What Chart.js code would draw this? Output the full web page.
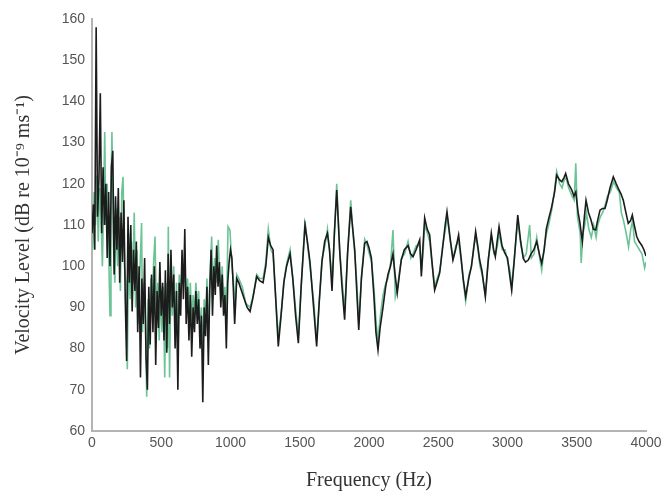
<!DOCTYPE html>
<html>
<head>
<meta charset="utf-8">
<script src="https://cdn.jsdelivr.net/npm/chart.js@4"></script>
<style>
  html, body { margin: 0; padding: 0; background: #fff; }
  #wrap { width: 666px; height: 493px; }
</style>
</head>
<body>
<div id="wrap"><canvas id="myChart" width="666" height="493"></canvas></div>
<script>
// black trace (frequency in Hz, level in dB)
var blackFreq = [0,10,20,30,40,50,60,70,80,90,100,110,120,130,140,150,160,170,180,190,
  200,210,220,230,240,250,260,270,280,290,300,310,320,330,340,350,360,370,380,390,
  400,410,420,430,440,450,460,470,480,490,500,510,520,530,540,550,560,570,580,590,
  600,610,620,630,640,650,660,670,680,690,700,710,720,730,740,750,760,770,780,790,
  800,810,820,830,840,850,860,870,880,890,900,910,920,930,940,950,960,970,980,990,
  1000,1010,1020,1030,1045,1060,1080,1100,1120,1141,1160,1189,1210,1235,1255,1273,1290,1307,1325,1345,
  1365,1385,1405,1430,1450,1470,1490,1510,1538,1555,1574,1600,1622,1640,1660,1680,1700,1715,1733,1750,
  1767,1788,1805,1824,1845,1868,1880,1897,1910,1926,1945,1969,1985,2000,2017,2035,2050,2065,2080,2101,
  2120,2137,2155,2173,2188,2204,2220,2233,2255,2282,2300,2318,2340,2366,2378,2390,2402,2420,2438,2455,
  2474,2490,2510,2530,2550,2563,2585,2606,2625,2647,2665,2680,2698,2720,2739,2755,2770,2785,2799,2815,
  2840,2860,2883,2900,2912,2925,2939,2960,2980,3000,3015,3030,3050,3074,3095,3114,3130,3150,3170,3190,
  3211,3230,3247,3265,3280,3295,3319,3340,3355,3375,3392,3408,3420,3440,3464,3480,3493,3510,3523,3540,
  3555,3567,3585,3603,3620,3637,3650,3668,3685,3704,3720,3740,3764,3785,3805,3820,3836,3855,3872,3888,
  3901,3915,3933,3950,3969,3985,4000];
var blackLevel = [108,115,104,158,112,121,142,108,124,110,120,102,118,100,124,128,98,117,104,119,
  96,113,101,116,92,77,112,96,110,89,104,94,106,84,100,73,97,86,102,78,
  70,95,81,98,84,100,76,94,85,101,88,96,82,99,79,103,86,104,90,98,
  80,94,70,96,88,104,92,109,86,95,82,93,78,90,84,94,86,92,80,88,
  67,90,83,95,76,94,104,88,100,93,105,95,101,90,98,88,93,80,96,101,
  104,102,95,86,97,96,94,92,90,89,92,97.5,96.5,96,100,107,105,104,93,80.5,
  88,96,100,103,97,88,81.3,95,110,106,101,90,80.5,91,101,106,108,104,94,108,
  118.5,104,95,87,103,114.4,110,104,95,84.5,97,105.6,106,104.5,102,93,84,79.7,85,90,
  95,98,100,103,98,93.5,98,101.5,104,105,103,102.3,104,106.4,97.5,105,111.7,109,107.6,101,
  94.2,96,98.3,104,110,113.2,107,101.5,104,107.6,102,97,92.6,97,99.9,104,108.4,105,101.5,99,
  92.6,101,108,104,102.3,106,109.6,105,103.2,102,98,94.2,102,112.4,106,101.9,101,101.5,103,104,
  106,103,100.7,104,109,111.2,114.4,118,122.1,121,120.5,121.5,122.5,120,118.5,117,118,113,110.5,106,
  112,116,113,111.2,109,108.8,111,113.6,114,114,116,119,121.7,120,118.5,117.5,116,113,110.4,111,
  112.4,110,107.2,106,105.1,104,102.5];

// green trace
var greenFreq = [5,15,25,35,45,55,65,75,85,92,100,110,120,130,137,144,155,165,175,185,
  195,205,215,224,235,245,255,265,275,285,295,305,315,325,335,345,358,365,375,385,
  395,405,415,425,435,445,455,465,475,485,495,505,515,525,535,545,551,560,570,580,
  590,600,610,620,630,640,650,660,670,680,690,700,710,720,730,740,750,760,770,780,
  790,800,810,820,830,840,850,864,875,885,895,912,920,930,940,950,960,970,982,996,
  1010,1020,1032,1045,1060,1085,1110,1141,1165,1189,1212,1235,1255,1273,1292,1307,1327,1345,1367,1388,
  1408,1430,1452,1472,1490,1512,1538,1557,1574,1602,1622,1642,1662,1682,1700,1717,1735,1752,1767,1790,
  1807,1824,1847,1868,1882,1897,1912,1926,1947,1969,1987,2002,2019,2037,2052,2065,2082,2101,2122,2137,
  2157,2173,2190,2206,2222,2235,2257,2282,2302,2318,2342,2366,2380,2392,2402,2422,2438,2457,2474,2492,
  2512,2532,2552,2565,2587,2608,2627,2647,2667,2682,2698,2722,2741,2757,2772,2787,2801,2817,2840,2862,
  2885,2902,2914,2927,2941,2962,2982,3002,3017,3032,3052,3074,3097,3116,3135,3160,3172,3192,3211,3232,
  3247,3267,3282,3297,3321,3342,3355,3377,3394,3410,3422,3442,3466,3482,3493,3505,3525,3532,3545,3558,
  3570,3587,3605,3622,3640,3652,3670,3687,3706,3722,3742,3766,3787,3807,3822,3838,3857,3874,3890,3903,
  3917,3935,3952,3971,3990,4000];
var greenLevel = [104,118,110,122,106,119,112,100,118,132.6,110,120,104,88,118,132.6,105,96,114,100,
  112,94,118,121.7,100,96,75,108,92,106,96,113,90,104,86,98,110.5,84,96,88,
  68.3,92,80,97,90,101,107.2,88,96,82,94,84,95,73,96,80,109.6,73,98,88,
  100,84,96,76,98,92,100,96,104,90,97,88,96,86,93,88,96,90,94,84,
  90,78,92,86,97,82,96,107.2,92,102,96,106.4,98,93,100,91,95,86,109.6,108.8,
  100,97,90,98,97,95,91,90,93,98,97,97,101,109,104,103,92,83,89,97,
  101,104,96,89,83,96,111,105,100,91,82,92,102,105,109,103,97,109,120,103,
  96,89,104,116,109,103,96,86,98,106.5,105,103,101,94,86,82,88,93,96,97,
  101,108.8,92.6,95,99,102,103,106,102,103,105,105,99,104,110,108,106,100,95,97,
  99,105,109,112,106,102,105,106,101,96,91.5,98,100,105,107,104,100,98,93,102,
  107,103,103,105,108,104,104,101,99,95,103,111,105,102,103,110,102,103,107,102,
  99,105,108,110,114,119,123,120,119,121,121.5,119,117,116,125,112,108,100.8,108,110,
  113,109,107,110,107,110,112,113,115,117,118,120.5,119,118,113,111,108,104.7,109,111,
  106,105,104,103,99.6,101];

var xTicks = [0, 500, 1000, 1500, 2000, 2500, 3000, 3500, 4000];
var yTicks = [60, 70, 80, 90, 100, 110, 120, 130, 140, 150, 160];

function toPoints(xs, ys) {
    var pts = [];
    for (var i = 0; i < xs.length; i++) {
        pts.push({x: xs[i], y: ys[i]});
    }
    return pts;
}

var tickFont = {family: "'Liberation Sans', Arial, sans-serif", size: 14};
var titleFont = {family: "'Liberation Serif', 'Times New Roman', serif", size: 20};

var myChart = new Chart("myChart", {
    type: 'line',
    data: {
        datasets: [{
            label: 'black',
            data: toPoints(blackFreq, blackLevel),
            borderColor: '#1c1c1c',
            borderWidth: 1.6,
            pointRadius: 0,
            tension: 0,
            order: 1
        }, {
            label: 'green',
            data: toPoints(greenFreq, greenLevel),
            borderColor: '#6cc496',
            borderWidth: 1.6,
            pointRadius: 0,
            tension: 0,
            order: 2
        }]
    },
    options: {
        responsive: false,
        animation: false,
        layout: {padding: {top: 19, right: 20, left: 0, bottom: 0}},
        plugins: {legend: {display: false}, tooltip: {enabled: false}},
        scales: {
            x: {
                type: 'linear',
                min: 0,
                max: 4000,
                afterBuildTicks: function(scale) {
                    scale.ticks = xTicks.map(function(v) { return {value: v}; });
                },
                afterFit: function(scale) { scale.height = 62; },
                grid: {display: false, drawTicks: false, tickLength: 0},
                border: {color: '#b4b4b4', width: 2},
                ticks: {font: tickFont, color: '#555', padding: 4, maxRotation: 0,
                        callback: function(v) { return String(v); }},
                title: {display: true, text: 'Frequency (Hz)', font: titleFont, color: '#333', padding: {top: 0, bottom: 0}}
            },
            y: {
                type: 'linear',
                min: 60,
                max: 160,
                afterBuildTicks: function(scale) {
                    scale.ticks = yTicks.map(function(v) { return {value: v}; });
                },
                afterFit: function(scale) { scale.width = 92; },
                grid: {display: false, drawTicks: false, tickLength: 0},
                border: {color: '#b4b4b4', width: 2},
                ticks: {font: tickFont, color: '#555', padding: 7,
                        callback: function(v) { return String(v); }},
                title: {display: true, text: 'Velocity Level (dB re 10\u207B\u2079 ms\u207B\u00B9)', font: titleFont, color: '#333', padding: {top: 12, bottom: 4}}
            }
        }
    }
});
</script>
</body>
</html>
